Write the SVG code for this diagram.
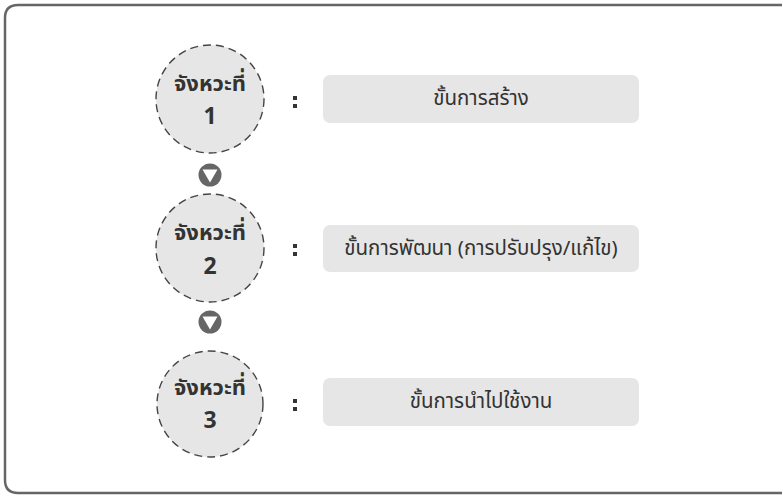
<svg xmlns="http://www.w3.org/2000/svg" width="783" height="496" viewBox="0 0 783 496">
<style>
.stage{fill:#e6e6e6;stroke:#444;stroke-width:1.4;stroke-dasharray:8 5}
.st{font-family:"Noto Sans Thai","Noto Sans",sans-serif;font-weight:bold;font-size:22px;fill:#333;text-anchor:middle}
.num{font-size:23px}
.box{fill:#e6e6e6}
.bt{font-family:"Noto Sans Thai","Noto Sans",sans-serif;font-size:20.5px;fill:#333;text-anchor:middle}
.colon{fill:#333}
.arr{fill:#666}
</style>
<path d="M782 5 L18 5 Q5 5 5 18 L5 480 Q5 493 18 493 L782 493" fill="none" stroke="#666" stroke-width="2.5"/>
<g id="stage1">
<circle class="stage" cx="210" cy="99" r="54"/>
<text class="st" x="210" y="91">จังหวะที่</text>
<text class="st num" x="210" y="124">1</text>
</g>
<g id="desc1">
<rect x="293" y="96" width="4" height="4" class="colon"/><rect x="293" y="104" width="4" height="4" class="colon"/>
<rect class="box" x="323" y="75" width="316" height="48" rx="7"/>
<text class="bt" x="481" y="105">ขั้นการสร้าง</text>
</g>
<g id="stage2">
<circle class="stage" cx="210" cy="248" r="54"/>
<text class="st" x="210" y="240">จังหวะที่</text>
<text class="st num" x="210" y="274">2</text>
</g>
<g id="desc2">
<rect x="293" y="244" width="4" height="4" class="colon"/><rect x="293" y="252" width="4" height="4" class="colon"/>
<rect class="box" x="323" y="225" width="316" height="47" rx="7"/>
<text class="bt" x="481" y="255">ขั้นการพัฒนา (การปรับปรุง/แก้ไข)</text>
</g>
<g id="stage3">
<circle class="stage" cx="210" cy="404" r="53"/>
<text class="st" x="210" y="395">จังหวะที่</text>
<text class="st num" x="210" y="428">3</text>
</g>
<g id="desc3">
<rect x="293" y="399" width="4" height="4" class="colon"/><rect x="293" y="407" width="4" height="4" class="colon"/>
<rect class="box" x="323" y="378" width="316" height="48" rx="7"/>
<text class="bt" x="481" y="408">ขั้นการนำไปใช้งาน</text>
</g>
<g id="connectors">
<circle class="arr" cx="210" cy="175" r="11.5"/>
<path d="M202.5 169.5 L217.5 169.5 L210 182.5 Z" fill="#fff"/>
<circle class="arr" cx="210" cy="322" r="11.5"/>
<path d="M202.5 316.5 L217.5 316.5 L210 329.5 Z" fill="#fff"/>
</g>
</svg>
